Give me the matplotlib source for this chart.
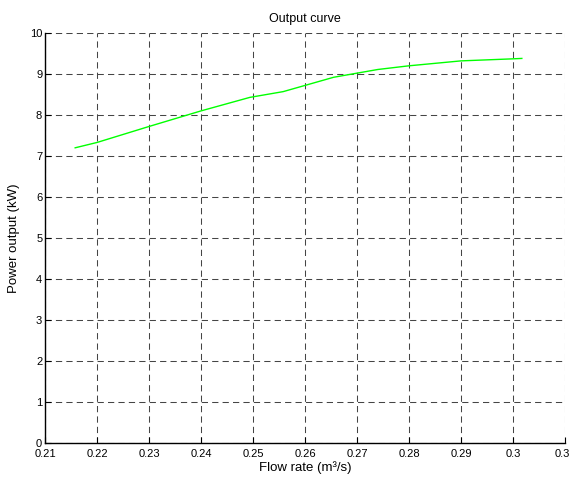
import matplotlib
matplotlib.use("Agg")
import matplotlib.pyplot as plt

flow = [0.2158, 0.22, 0.23, 0.24, 0.2494, 0.2558, 0.2655, 0.274, 0.28, 0.29, 0.30, 0.3017]
power = [7.20, 7.33, 7.72, 8.10, 8.43, 8.57, 8.92, 9.11, 9.20, 9.32, 9.37, 9.38]
xticks = [0.21, 0.22, 0.23, 0.24, 0.25, 0.26, 0.27, 0.28, 0.29, 0.30, 0.31]
xticklabels = ["0.21", "0.22", "0.23", "0.24", "0.25", "0.26", "0.27", "0.28", "0.29", "0.3", "0.31"]
yticks = list(range(0, 11))

plt.rcParams['font.family'] = ['Liberation Sans', 'DejaVu Sans']

fig = plt.figure(figsize=(5.69, 4.79), dpi=100)
ax = fig.add_axes([45/569, 1-443/479, 520/569, 410/479])
ax.plot(flow, power, color='#00ff00', linewidth=1.0, clip_on=False)
ax.set_xlim(0.21, 0.31)
ax.set_ylim(0, 10)
ax.set_xticks(xticks)
ax.set_xticklabels(xticklabels)
ax.set_yticks(yticks)
ax.tick_params(direction='in', length=4, labelsize=8, colors='black')
ax.tick_params(axis='x', pad=4)
ax.tick_params(axis='y', pad=2)
for s in ['top', 'right']:
    ax.spines[s].set_visible(False)
for s in ['left', 'bottom']:
    ax.spines[s].set_linewidth(1.0)
ax.grid(True, color='#454545', linestyle=(0, (6, 4)), linewidth=0.75)
ax.set_axisbelow(True)
ax.set_xlabel('Flow rate (m³/s)', fontsize=9.5, labelpad=2)
ax.set_ylabel('Power output (kW)', fontsize=9.5, labelpad=7)
ax.set_title('Output curve', fontsize=9, pad=8)
fig.savefig('out.png', dpi=100)
